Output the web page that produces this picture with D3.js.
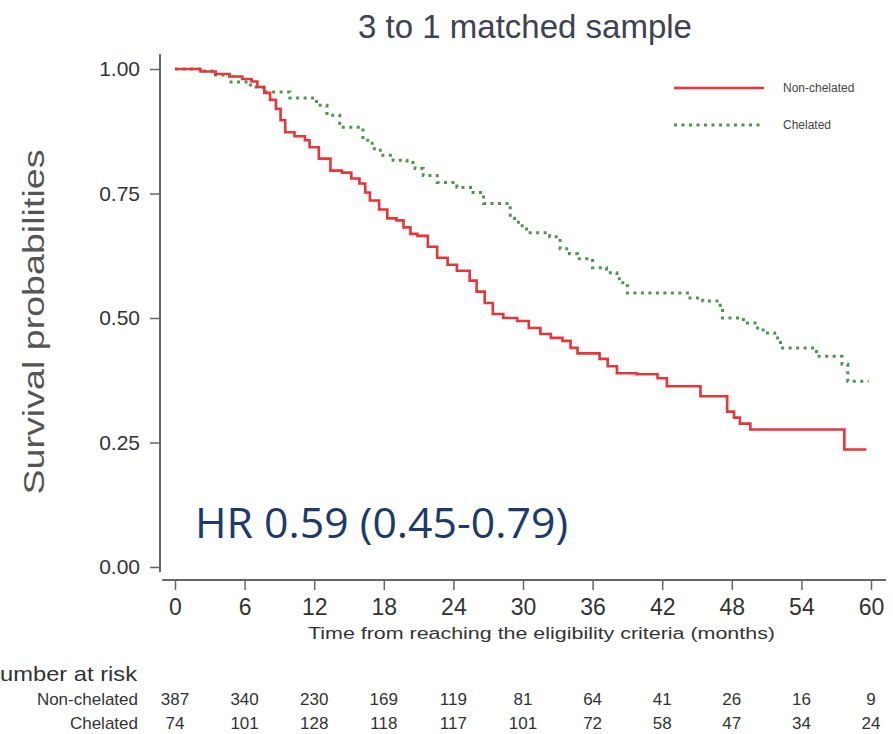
<!DOCTYPE html>
<html>
<head>
<meta charset="utf-8">
<script src="https://cdn.jsdelivr.net/npm/d3@7"></script>
<style>
    body { margin: 0; background: #fff; }
    svg { display: block; font-family: "Liberation Sans", Arial, sans-serif; }
</style>
</head>
<body>
<div id="container"></div>
<script>
"use strict";

const WIDTH = 893;
const HEIGHT = 734;

const TITLE = "3 to 1 matched sample";
const SERIES_NAMES = ["Non-chelated", "Chelated"];

const MONTH_TICKS = [0, 6, 12, 18, 24, 30, 36, 42, 48, 54, 60];
const PROB_TICKS = [0, 0.25, 0.5, 0.75, 1];

const NON_CHELATED_TIME = [0, 2.2, 3.5, 4.7, 5.8, 6.6, 7.1, 7.7, 8.2, 8.7, 9.1, 9.5, 10.3, 11.2, 11.6, 12.4,
    13.4, 14.4, 15.2, 15.9, 16.4, 16.8, 17.6, 18.3, 19.1, 19.7, 20.3, 20.9, 21.8, 22.6, 23.5, 24.3, 25.4,
    26.0, 26.7, 27.4, 28.3, 29.5, 30.5, 31.5, 32.4, 33.4, 34.1, 34.7, 36.6, 37.3, 38.1, 39.8, 41.6, 42.4,
    45.3, 47.6, 48.2, 48.7, 49.6, 57.7, 59.6];
const NON_CHELATED_SURV = [1, 0.995, 0.99, 0.985, 0.98, 0.975, 0.964, 0.952, 0.938, 0.92, 0.897, 0.873, 0.865, 0.857, 0.843, 0.82,
    0.796, 0.792, 0.78, 0.77, 0.752, 0.736, 0.718, 0.7, 0.696, 0.682, 0.669, 0.665, 0.643, 0.621, 0.607, 0.595, 0.575,
    0.553, 0.53, 0.508, 0.5, 0.494, 0.48, 0.468, 0.46, 0.454, 0.44, 0.429, 0.418, 0.403, 0.389, 0.387, 0.379, 0.363,
    0.343, 0.312, 0.3, 0.288, 0.276, 0.236, 0.236];

const CHELATED_TIME = [0, 2.4, 3.5, 4.7, 6.5, 7.6, 9.9, 12.2, 13.1, 14.2, 16.2, 17.0, 17.7, 18.8, 20.0, 20.7,
    21.4, 22.6, 24.3, 25.7, 26.6, 28.9, 29.6, 30.3, 32.3, 33.2, 34.0, 34.7, 36.0, 37.2, 38.1, 38.6, 39.0,
    44.4, 45.5, 47.0, 47.2, 49.0, 50.0, 50.7, 51.7, 52.2, 55.3, 57.5, 58.0, 59.8];
const CHELATED_SURV = [1, 0.996, 0.988, 0.974, 0.964, 0.954, 0.942, 0.927, 0.907, 0.883, 0.857, 0.84, 0.827, 0.817, 0.812, 0.8,
    0.786, 0.772, 0.762, 0.752, 0.73, 0.7, 0.685, 0.671, 0.663, 0.639, 0.629, 0.619, 0.601, 0.591, 0.579, 0.565, 0.55,
    0.54, 0.534, 0.52, 0.5, 0.49, 0.48, 0.47, 0.46, 0.44, 0.423, 0.407, 0.373, 0.373];

const AT_RISK_NON_CHELATED = [387, 340, 230, 169, 119, 81, 64, 41, 26, 16, 9];
const AT_RISK_CHELATED = [74, 101, 128, 118, 117, 101, 72, 58, 47, 34, 24];

const HR_TEXT = "HR 0.59 (0.45-0.79)";

const RED = "#e6353b";
const GREEN = "#4f9450";
const AXIS_GREY = "#666";
const TEXT_GREY = "#333";
const NARROW = "'Liberation Sans Narrow', 'Liberation Sans', Arial, sans-serif";

const SVG = d3.select("#container").append("svg")
    .attr("width", WIDTH)
    .attr("height", HEIGHT);

const xScale = d3.scaleLinear().domain([0, 60]).range([175, 871]);
const yScale = d3.scaleLinear().domain([0, 1]).range([567, 69]);

const X_AXIS_Y = 580;

drawTitle();
drawAxes();
drawCurves();
drawLegend();
drawAtRisk();

function toPoints(times, survs) {
    return times.map((t, i) => ({ t: t, s: survs[i] }));
}

function drawTitle() {
    SVG.append("text")
        .attr("x", 525)
        .attr("y", 38)
        .attr("text-anchor", "middle")
        .attr("font-size", 33)
        .attr("fill", "#3d4352")
        .text(TITLE);

    SVG.append("text")
        .attr("transform", "translate(44, 322) rotate(-90)")
        .attr("text-anchor", "middle")
        .attr("font-size", 30)
        .attr("fill", "#555")
        .attr("textLength", 345)
        .attr("lengthAdjust", "spacingAndGlyphs")
        .text("Survival probabilities");

    SVG.append("text")
        .attr("x", 195)
        .attr("y", 538)
        .attr("font-family", "'Open Sans', sans-serif")
        .attr("font-size", 42)
        .attr("fill", "#1c3b6a")
        .attr("textLength", 373)
        .attr("lengthAdjust", "spacingAndGlyphs")
        .text(HR_TEXT);
}

function drawAxes() {
    const yaxis = d3.axisLeft(yScale)
        .tickValues(PROB_TICKS)
        .tickFormat(d3.format(".2f"))
        .tickSize(10)
        .tickPadding(10);

    const gy = SVG.append("g")
        .attr("transform", "translate(160, 0)")
        .call(yaxis);
    gy.select(".domain").remove();
    gy.selectAll(".tick line").attr("stroke", AXIS_GREY).attr("stroke-width", 1.5);
    gy.selectAll(".tick text")
        .attr("font-size", 21)
        .attr("font-family", "'Liberation Sans', Arial, sans-serif")
        .attr("fill", TEXT_GREY);

    SVG.append("line")
        .attr("x1", 160).attr("x2", 160)
        .attr("y1", yScale(1.03)).attr("y2", yScale(-0.01))
        .attr("stroke", AXIS_GREY)
        .attr("stroke-width", 2);

    const xaxis = d3.axisBottom(xScale)
        .tickValues(MONTH_TICKS)
        .tickSize(10)
        .tickPadding(9);

    const gx = SVG.append("g")
        .attr("transform", `translate(0, ${X_AXIS_Y})`)
        .call(xaxis);
    gx.select(".domain").remove();
    gx.selectAll(".tick line").attr("stroke", AXIS_GREY).attr("stroke-width", 1.5);
    gx.selectAll(".tick text")
        .attr("font-size", 23)
        .attr("font-family", NARROW)
        .attr("fill", TEXT_GREY);

    SVG.append("line")
        .attr("x1", xScale(-1.1)).attr("x2", xScale(61.3))
        .attr("y1", X_AXIS_Y).attr("y2", X_AXIS_Y)
        .attr("stroke", AXIS_GREY)
        .attr("stroke-width", 2);

    SVG.append("text")
        .attr("x", 308)
        .attr("y", 639)
        .attr("font-size", 16)
        .attr("font-family", NARROW)
        .attr("fill", TEXT_GREY)
        .attr("textLength", 467)
        .attr("lengthAdjust", "spacingAndGlyphs")
        .text("Time from reaching the eligibility criteria (months)");
}

function drawCurves() {
    const line = d3.line()
        .x(d => xScale(d.t))
        .y(d => yScale(d.s))
        .curve(d3.curveStepAfter);

    SVG.append("path")
        .attr("d", line(toPoints(CHELATED_TIME, CHELATED_SURV)))
        .attr("fill", "none")
        .attr("stroke", GREEN)
        .attr("stroke-width", 3)
        .attr("stroke-dasharray", "3,4.5");

    SVG.append("path")
        .attr("d", line(toPoints(NON_CHELATED_TIME, NON_CHELATED_SURV)))
        .attr("fill", "none")
        .attr("stroke", RED)
        .attr("stroke-width", 2.6);
}

function drawLegend() {
    const items = [
        { name: SERIES_NAMES[0], color: RED, dash: null, width: 2.6, y: 88 },
        { name: SERIES_NAMES[1], color: GREEN, dash: "3,4.5", width: 3, y: 125 }
    ];

    const g = SVG.append("g");
    items.forEach(function (item) {
        g.append("line")
            .attr("x1", 674).attr("x2", 764)
            .attr("y1", item.y).attr("y2", item.y)
            .attr("stroke", item.color)
            .attr("stroke-width", item.width)
            .attr("stroke-dasharray", item.dash);
        g.append("text")
            .attr("x", 783)
            .attr("y", item.y + 4)
            .attr("font-size", 12)
            .attr("font-family", NARROW)
            .attr("fill", "#444")
            .text(item.name);
    });
}

function drawAtRisk() {
    SVG.append("text")
        .attr("x", -17)
        .attr("y", 681)
        .attr("font-size", 21)
        .attr("font-family", NARROW)
        .attr("fill", TEXT_GREY)
        .attr("textLength", 154)
        .attr("lengthAdjust", "spacingAndGlyphs")
        .text("Number at risk");

    const rows = [
        { name: SERIES_NAMES[0], values: AT_RISK_NON_CHELATED, y: 705 },
        { name: SERIES_NAMES[1], values: AT_RISK_CHELATED, y: 729 }
    ];

    rows.forEach(function (row) {
        SVG.append("text")
            .attr("x", 138)
            .attr("y", row.y)
            .attr("text-anchor", "end")
            .attr("font-size", 17)
            .attr("font-family", NARROW)
            .attr("fill", TEXT_GREY)
            .text(row.name);

        SVG.append("g").selectAll("text")
            .data(row.values)
            .join("text")
            .attr("x", (d, i) => xScale(MONTH_TICKS[i]))
            .attr("y", row.y)
            .attr("text-anchor", "middle")
            .attr("font-size", 17)
            .attr("font-family", NARROW)
            .attr("fill", TEXT_GREY)
            .text(d => d);
    });
}
</script>
</body>
</html>
